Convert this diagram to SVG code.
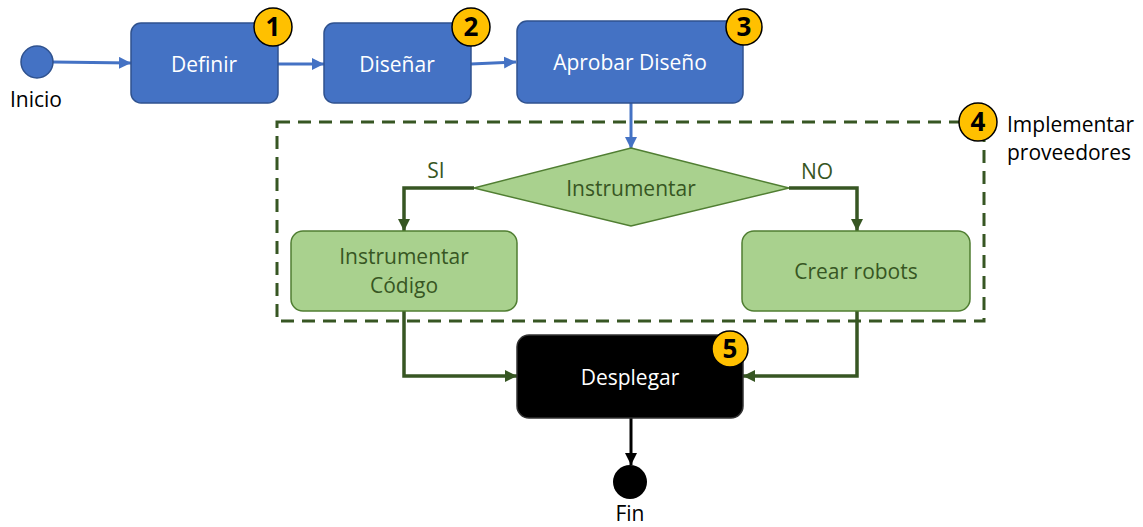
<svg xmlns="http://www.w3.org/2000/svg" width="1143" height="527" viewBox="0 0 1143 527">
<style>
text{font-family:"Open Sans","Noto Sans",sans-serif;font-size:21px;text-anchor:middle}
.blue{fill:#4472C4;stroke:#2F528F;stroke-width:1.5}
.green{fill:#A9D18E;stroke:#507E32;stroke-width:1.5}
.black{fill:#000;stroke:#333;stroke-width:1.5}
.wt{fill:#fff}
.gt{fill:#375623}
.kt{fill:#000}
.badge circle{fill:#FFC000;stroke:#000;stroke-width:1.5}
.badge text{font-weight:bold;font-size:26px;fill:#000}
.cb{fill:none;stroke:#4472C4;stroke-width:3}
.cg{fill:none;stroke:#375623;stroke-width:3.5}
.ck{fill:none;stroke:#000;stroke-width:3}
</style>
<defs>
<marker id="ab" markerUnits="userSpaceOnUse" markerWidth="14" markerHeight="14" refX="12" refY="6" orient="auto"><path d="M0,0 L12,6 L0,12 z" fill="#4472C4"/></marker>
<marker id="ag" markerUnits="userSpaceOnUse" markerWidth="14" markerHeight="14" refX="12" refY="6" orient="auto"><path d="M0,0 L12,6 L0,12 z" fill="#375623"/></marker>
<marker id="ak" markerUnits="userSpaceOnUse" markerWidth="14" markerHeight="14" refX="12" refY="6" orient="auto"><path d="M0,0 L12,6 L0,12 z" fill="#000"/></marker>
</defs>
<rect width="1143" height="527" fill="#fff"/>

<g id="group4">
<rect x="277" y="122" width="707" height="199" fill="none" stroke="#375623" stroke-width="3" stroke-dasharray="13,8"/>
<text x="1007" y="132" class="kt" style="text-anchor:start">Implementar</text>
<text x="1007" y="160" class="kt" style="text-anchor:start">proveedores</text>
</g>

<g id="connectors">
<path class="cb" d="M53,62 L131,63" marker-end="url(#ab)"/>
<path class="cb" d="M278,64 L324,64" marker-end="url(#ab)"/>
<path class="cb" d="M471,64 L516,62" marker-end="url(#ab)"/>
<path class="cb" d="M631,103 L631,149" marker-end="url(#ab)"/>
<path class="cg" d="M474,188 L404,188 L404,231" marker-end="url(#ag)"/>
<path class="cg" d="M789,188 L857,188 L857,231" marker-end="url(#ag)"/>
<path class="cg" d="M404,311 L404,376 L517,376" marker-end="url(#ag)"/>
<path class="cg" d="M857,311 L857,376 L743,376" marker-end="url(#ag)"/>
<path class="ck" d="M631,418 L631,465" marker-end="url(#ak)"/>
<text x="436" y="178" class="gt">SI</text>
<text x="817" y="179" class="gt">NO</text>
</g>

<g id="inicio">
<circle cx="37" cy="62" r="16" class="blue"/>
<text x="36" y="107" class="kt">Inicio</text>
</g>

<g id="definir">
<rect x="131" y="23" width="147" height="80" rx="10" class="blue"/>
<text x="204" y="72" class="wt">Definir</text>
</g>

<g id="disenar">
<rect x="324" y="23" width="147" height="80" rx="10" class="blue"/>
<text x="397" y="72" class="wt">Diseñar</text>
</g>

<g id="aprobar">
<rect x="517" y="21" width="226" height="82" rx="10" class="blue"/>
<text x="630" y="70" class="wt">Aprobar Diseño</text>
</g>

<g id="decision">
<polygon points="631,148 789,188 631,226 474,188" class="green"/>
<text x="631" y="196" class="gt">Instrumentar</text>
</g>

<g id="instrumentar-codigo">
<rect x="291" y="231" width="226" height="80" rx="12" class="green"/>
<text x="404" y="264" class="gt">Instrumentar</text>
<text x="404" y="293" class="gt">Código</text>
</g>

<g id="crear-robots">
<rect x="742" y="231" width="228" height="80" rx="12" class="green"/>
<text x="856" y="279" class="gt">Crear robots</text>
</g>

<g id="desplegar">
<rect x="517" y="335" width="226" height="83" rx="12" class="black"/>
<text x="630" y="385" class="wt">Desplegar</text>
</g>

<g id="fin">
<circle cx="630" cy="482" r="17" fill="#000"/>
<text x="630" y="521" class="kt">Fin</text>
</g>

<g id="badge1" class="badge"><circle cx="273" cy="27" r="19"/><text x="273" y="36">1</text></g>
<g id="badge2" class="badge"><circle cx="471" cy="27" r="19"/><text x="471" y="36">2</text></g>
<g id="badge3" class="badge"><circle cx="744" cy="27" r="18"/><text x="744" y="36">3</text></g>
<g id="badge4" class="badge"><circle cx="978" cy="122" r="19"/><text x="978" y="131">4</text></g>
<g id="badge5" class="badge"><circle cx="730" cy="349" r="18"/><text x="730" y="358">5</text></g>
</svg>
